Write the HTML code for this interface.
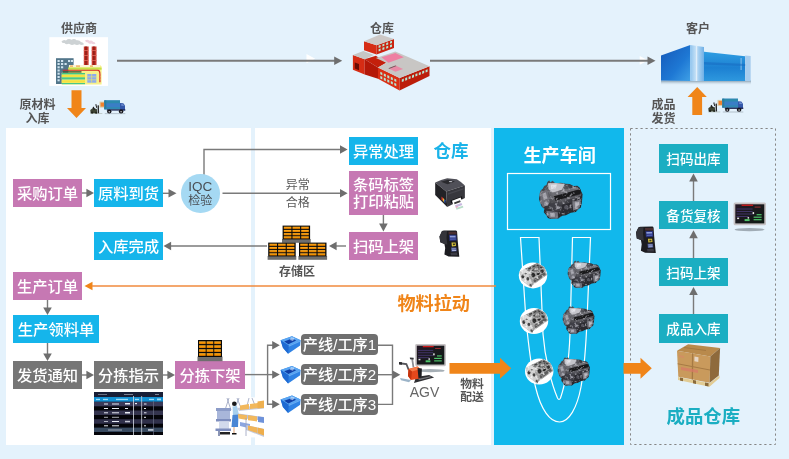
<!DOCTYPE html>
<html lang="zh">
<head>
<meta charset="utf-8">
<title>物料拉动流程</title>
<style>
html,body{margin:0;padding:0;}
body{width:789px;height:459px;overflow:hidden;background:#E4F2FC;font-family:"Liberation Sans","Noto Sans CJK SC",sans-serif;}
#stage{position:relative;width:789px;height:459px;overflow:hidden;will-change:transform;}
.abs{position:absolute;}
.panel{position:absolute;background:#fff;}
.box{position:absolute;color:#fff;font-size:15.3px;line-height:29px;overflow:hidden;text-align:center;white-space:nowrap;height:28px;width:69px;font-weight:500;}
.pk{background:#C678B3;}
.bl{background:#15B5EB;}
.gy{background:#767676;}
.tl{background:#1BAEC2;font-size:13.6px;line-height:31.5px;}
.rd{border-radius:4px;background:#6F6F6F;height:21px;line-height:21.5px;width:76px;font-size:15.2px;}
.lbl{position:absolute;font-weight:700;color:#555;font-size:12px;line-height:13px;text-align:center;white-space:nowrap;}
.ttl{position:absolute;font-weight:700;white-space:nowrap;line-height:20px;}
svg{position:absolute;left:0;top:0;}
</style>
</head>
<body>
<div id="stage">
<!-- panels -->
<div class="panel" style="left:6px;top:128px;width:245px;height:317px;"></div>
<div class="panel" style="left:255px;top:128px;width:236px;height:317px;"></div>
<div class="abs" style="left:494px;top:128px;width:130px;height:317px;background:#11B8EC;"></div>

<!-- lines & arrows -->
<svg id="lines" width="789" height="459" viewBox="0 0 789 459">
<path d="M306.500 54l8.700 4.700l-8.700 4.500zM639.700 56l8.500 4.500l-8.500 4.300z" fill="#fff"/>
<g fill="none" stroke="#7A7A7A" stroke-width="1.4">
<rect x="630.5" y="128.5" width="145" height="316" stroke="#858585" stroke-width="1" stroke-dasharray="2.2 2.8"/>
<!-- top flow -->
<path d="M117 60.700H336" stroke-width="2"/>
<path d="M430 60.700H649" stroke-width="2"/>
<!-- main flow -->
<path d="M82 193H88"/>
<path d="M163 193.300H169"/>
<path d="M204 175V149.500H341"/>
<path d="M222.500 193.300H341"/>
<path d="M383.400 215V224"/>
<path d="M346 246H336"/>
<path d="M267 246H170"/>
<path d="M47.500 300V309"/>
<path d="M47.500 343V355"/>
<path d="M82 375H88"/>
<path d="M163 375H169"/>
<path d="M245 374.600H274"/>
<path d="M274 345.300H267.600V404.300H274"/>
<path d="M378 345.300H392.500V404.400H378"/>
<path d="M378 374.700H394"/>
<!-- right column -->
<path d="M693.500 201V180"/>
<path d="M693.500 258V237"/>
<path d="M693.500 314V294"/>
</g>
<g fill="#6E6E6E">
<path d="M342.200 60.700l-8-4.300v8.600z"/>
<path d="M655.500 60.700l-8-4.300v8.600z"/>
<path d="M94 193l-7.600-4.300v8.600z"/>
<path d="M176.500 193.300l-8-4.200v8.400z"/>
<path d="M347.600 149.500l-7.600-4.200v8.400z"/>
<path d="M347.600 193.300l-7.600-4.200v8.400z"/>
<path d="M383.400 231.500l-4.300-8h8.600z"/>
<path d="M329 246l7.600-4.300v8.600z"/>
<path d="M163.500 246l7.600-4.300v8.600z"/>
<path d="M47.500 315l-4.300-7.600h8.600z"/>
<path d="M47.500 361l-4.300-7.600h8.600z"/>
<path d="M94 375l-7.600-4.300v8.600z"/>
<path d="M175 375l-7.600-4.300v8.600z"/>
<path d="M279.800 345.300l-7.600-4.200v8.400z"/>
<path d="M279.800 374.600l-7.600-4.200v8.400z"/>
<path d="M279.800 404.300l-7.600-4.200v8.400z"/>
<path d="M400.300 374.700l-7.600-4.200v8.400z"/>
<path d="M693.500 173.500l-4.300 8h8.600z"/>
<path d="M693.500 230.200l-4.300 8h8.600z"/>
<path d="M693.500 287l-4.300 8h8.600z"/>
</g>
<!-- orange -->
<g fill="#F08519" stroke="none">
<path d="M71.500 90.300h10v17.700h4.500l-9.500 10-9.500-10h4.500z"/>
<path d="M697.200 87l9.600 10h-4.700v18h-9.800v-18h-4.700z"/>
<path d="M449.500 363H500V357.800L511.200 368.300L500 378.800V373.700H449.500Z"/>
<path d="M623.500 363H640.500V357.800L651.800 368.300L640.500 378.800V373.700H623.500Z"/>
<path d="M84.500 286l8-4.300v8.600z"/>
</g>
<path d="M92 286H496" stroke="#F08A3C" stroke-width="1.4" fill="none"/>
<!-- conveyor -->
<g fill="none" stroke="#fff" stroke-width="1.2">
<rect x="507.500" y="173.500" width="103" height="56"/>
<path d="M539 237.500H520.500L526 320C529 350 532 372 535.500 387C541 410 550 422 559.500 422C569 422 577 408 581 387C584 370 586 345 587 320L590.500 237.500H572.500L570 334C569 360 565 385 560.500 398Q559 401 557.500 398C552 385 545 360 543 334Z"/>
</g>
</svg>

<!-- top labels -->
<div class="lbl" style="left:49px;top:22.5px;width:60px;">供应商</div>
<div class="lbl" style="left:352px;top:22.5px;width:60px;">仓库</div>
<div class="lbl" style="left:668px;top:22.5px;width:60px;">客户</div>
<div class="lbl" style="left:7.5px;top:97.9px;width:60px;line-height:14px;">原材料<br>入库</div>
<div class="lbl" style="left:633.5px;top:99.1px;width:60px;line-height:13.4px;">成品<br>发货</div>

<!-- flow boxes -->
<div class="box pk" style="left:13px;top:179px;">采购订单</div>
<div class="box bl" style="left:94px;top:179px;">原料到货</div>
<div class="abs" style="left:181px;top:174px;width:38.6px;height:38.6px;border-radius:50%;background:#A5D9F3;"></div>
<div class="abs" style="left:181px;top:179.5px;width:38.6px;text-align:center;color:#4A4F55;font-size:13.5px;line-height:14px;">IQC</div>
<div class="abs" style="left:181px;top:193.5px;width:38.6px;text-align:center;color:#4A4F55;font-size:12px;line-height:14px;">检验</div>
<div class="box bl" style="left:349px;top:137px;">异常处理</div>
<div class="box pk" style="left:349px;top:171px;height:44px;line-height:17px;"><div style="padding-top:5px;">条码标签<br>打印粘贴</div></div>
<div class="box pk" style="left:349px;top:232px;">扫码上架</div>
<div class="box bl" style="left:94px;top:232px;">入库完成</div>
<div class="box pk" style="left:13px;top:272px;">生产订单</div>
<div class="box bl" style="left:13px;top:315px;width:86px;">生产领料单</div>
<div class="box gy" style="left:13px;top:361px;">发货通知</div>
<div class="box gy" style="left:94px;top:361px;">分拣指示</div>
<div class="box pk" style="left:175px;top:361px;width:70px;">分拣下架</div>
<div class="box rd" style="left:301px;top:334px;width:77px;">产线/工序1</div>
<div class="box rd" style="left:301px;top:363.8px;width:77px;">产线/工序2</div>
<div class="box rd" style="left:301px;top:393.8px;width:77px;">产线/工序3</div>

<div class="box tl" style="left:659px;top:144px;height:29px;">扫码出库</div>
<div class="box tl" style="left:659px;top:201px;">备货复核</div>
<div class="box tl" style="left:659px;top:258px;">扫码上架</div>
<div class="box tl" style="left:659px;top:313.7px;height:29px;">成品入库</div>

<!-- small texts -->
<div class="abs" style="left:277.7px;top:176.5px;width:40px;text-align:center;color:#595959;font-size:12px;line-height:17px;">异常</div>
<div class="abs" style="left:277.7px;top:194.6px;width:40px;text-align:center;color:#595959;font-size:12px;line-height:17px;">合格</div>
<div class="lbl" style="left:267px;top:265.5px;width:60px;">存储区</div>
<div class="abs" style="left:404px;top:384.5px;width:41px;text-align:center;color:#666;font-size:14px;line-height:15px;">AGV</div>
<div class="lbl" style="left:452px;top:377.8px;width:40px;line-height:13.5px;font-size:11.8px;">物料<br>配送</div>

<!-- titles -->
<div class="ttl" style="left:433.5px;top:141px;font-size:17.5px;color:#1AB3E9;">仓库</div>
<div class="ttl" style="left:523.5px;top:145.5px;font-size:18.1px;color:#fff;">生产车间</div>
<div class="ttl" style="left:397.5px;top:294px;font-size:18.1px;color:#F08519;">物料拉动</div>
<div class="ttl" style="left:666.5px;top:407px;font-size:18.4px;color:#1BAEC2;">成品仓库</div>

<svg id="icons" width="789" height="459" viewBox="0 0 789 459">
<defs>
<linearGradient id="og" x1="0" y1="0" x2="0" y2="1"><stop offset="0" stop-color="#FFB638"/><stop offset="0.5" stop-color="#F59300"/><stop offset="1" stop-color="#D97800"/></linearGradient>
<g id="pallet">
<rect x="-0.6" y="13.400" width="28.700" height="3.800" fill="#6E6E6E"/>
<rect x="0" y="0" width="27.500" height="13.800" fill="#0A0A0A"/>
<g fill="url(#og)">
<rect x="1.200" y="1.100" width="7.600" height="2.200"/><rect x="9.900" y="1.100" width="7.600" height="2.200"/><rect x="18.600" y="1.100" width="7.600" height="2.200"/>
<rect x="1.200" y="4.300" width="7.600" height="2.200"/><rect x="9.900" y="4.300" width="7.600" height="2.200"/><rect x="18.600" y="4.300" width="7.600" height="2.200"/>
<rect x="1.200" y="7.500" width="7.600" height="2.200"/><rect x="9.900" y="7.500" width="7.600" height="2.200"/><rect x="18.600" y="7.500" width="7.600" height="2.200"/>
<rect x="1.200" y="10.700" width="7.600" height="2.200"/><rect x="9.900" y="10.700" width="7.600" height="2.200"/><rect x="18.600" y="10.700" width="7.600" height="2.200"/>
</g>
</g>
<g id="bin">
<path d="M0 4.100L11.400 0L20 4.100L19.600 9.300L7.500 17.500L2.300 11.600Z" fill="#2F82E4"/>
<path d="M0 4.100L11.400 0L20 4.100L8.200 9.200Z" fill="#5AA6F2"/>
<path d="M3.600 5.300L11.400 2.400L15.600 4.200L7.800 8Z" fill="#0F3FA8"/>
<path d="M0 4.100L8.200 9.200L7.500 17.500L2.300 11.600Z" fill="#1F6AD2"/>
<path d="M10.400 1L14 1.700L12.400 4.800L9.400 3.800Z" fill="#CFE6FF" opacity="0.650"/>
<path d="M8.200 9.200L20 4.100L19.900 5.300L8.100 10.500Z" fill="#7FBEFA" opacity="0.700"/>
</g>
<linearGradient id="scr" x1="0" y1="0" x2="1" y2="1"><stop offset="0" stop-color="#241826"/><stop offset="1" stop-color="#0E1A14"/></linearGradient>
<g id="monitor">
<ellipse cx="16" cy="27" rx="15" ry="1.700" fill="#8E9AA2" opacity="0.8"/>
<rect x="0" y="0" width="32.400" height="22.600" rx="1.500" fill="#C6C2C4"/>
<rect x="1.700" y="1.700" width="29" height="19.100" fill="url(#scr)"/>
<rect x="8" y="2" width="11.500" height="1.300" fill="#D01818"/>
<rect x="21" y="4" width="6" height="1" fill="#A03030"/>
<g fill="#4A3A78"><rect x="3" y="6" width="16" height="0.800"/><rect x="3" y="8.500" width="16" height="0.800"/><rect x="3" y="11" width="16" height="0.800"/><rect x="3" y="13.500" width="12" height="0.800"/></g>
<g fill="#4FC36A"><rect x="11" y="16.500" width="5" height="2"/><rect x="20" y="14" width="8" height="1.200"/><rect x="23" y="11.500" width="5" height="1.200"/><rect x="20" y="16.500" width="8" height="1.200"/></g>
<rect x="3.500" y="15" width="2" height="1.500" fill="#ddd"/><rect x="14" y="14.500" width="1.500" height="1.500" fill="#eee"/><rect x="19" y="9.500" width="1.500" height="2" fill="#eee"/>
</g>
<g id="scanner">
<path d="M2.400 1.500Q3 0.600 5 0.700L16.500 0.600Q17.500 0.700 17.600 2L18.200 10.800L19 19L19.800 26.900L9.100 26.700L4.900 24.800L5.700 18.200L4.900 14.100L0.800 12.400L0 6.600Z" fill="#1C1C20"/>
<path d="M2.400 1.500L7.500 1.200L7 8L7.800 14.800L4.900 14.100L0.800 12.400L0 6.600Z" fill="#34343A"/>
<path d="M9 2L17 2L17.200 4.500L9.200 4.600Z" fill="#4A2E30"/>
<path d="M9.500 5L16.900 5L17.300 10.800L9.900 11.200Z" fill="#27307A"/>
<path d="M10.300 6L16 6L16.200 7.600L10.500 7.800Z" fill="#8C9CD8"/>
<path d="M10.600 8.800L16.300 8.600L16.400 9.800L10.700 10Z" fill="#5666B8"/>
<path d="M12 12.800L16.100 12.800L16.500 16.100L12.400 16.600Z" fill="#D8C23C"/>
<path d="M13.300 13.800L15.300 13.800L15.500 15.300L13.500 15.400Z" fill="#3A3A20"/>
<path d="M11.500 17.800L16.900 17.800L17.300 21.500L11.900 21.900Z" fill="#4A5690"/>
<path d="M12.300 18.600L16.300 18.600L16.400 19.500L12.400 19.600ZM12.500 20.300L16.500 20.300L16.600 21.100L12.600 21.200Z" fill="#A8B0D8"/>
<path d="M11 23L17.500 22.800L18 25.500L11.500 25.500Z" fill="#3A3A44"/>
</g>
<g id="truck">
<rect x="0" y="14.300" width="12" height="0.700" fill="#A8B0A8" opacity="0.800"/>
<rect x="14.500" y="14.300" width="20.500" height="0.800" fill="#9AA6B0" opacity="0.800"/>
<path d="M0 11L2.500 9L6.500 10L7 14.300L0.300 14.300Z" fill="#3E4434"/>
<path d="M2.300 8.500L3.300 7.500L4.800 10.500L3.500 11Z" fill="#1E1E1E"/>
<path d="M5 5.500L6 5L6.800 8.500L6 9Z" fill="#1A1A1A"/>
<path d="M7.200 6.500L8.600 6.300L8.800 14.300L7.400 14.300Z" fill="#2A2A2A"/>
<circle cx="1.800" cy="13.600" r="1.100" fill="#20241C"/><circle cx="5.800" cy="13.700" r="1" fill="#20241C"/>
<rect x="9.200" y="2.600" width="5.400" height="6" fill="#D8CCA8"/>
<rect x="10.300" y="3.600" width="3.800" height="4" fill="#F0822E"/>
<path d="M14 1.400L29.700 1.400L29.700 10.300L14 10.300Z" fill="#3A7EC6"/>
<path d="M14 1.400L29.700 1.400L29.700 4.200L14 4.200Z" fill="#2C8AAE"/>
<path d="M14 8L29.700 8L29.700 10.300L14 10.300Z" fill="#3088B4"/>
<path d="M14 1.400L16 1.400L16 10.300L14 10.300Z" fill="#2A7C9C"/>
<path d="M29.700 4L33 4.200L34.700 6.500L34.700 11.300L29.700 11.300Z" fill="#3458AA"/>
<path d="M31 5L32.800 5.200L34 6.800L31 6.800Z" fill="#6E8ED0"/>
<rect x="16.500" y="10.300" width="18.500" height="1.300" fill="#1C2450"/>
<ellipse cx="19" cy="12.500" rx="2.200" ry="2" fill="#15151A"/><ellipse cx="30.800" cy="12.500" rx="2.300" ry="2" fill="#15151A"/>
<ellipse cx="19" cy="12.800" rx="0.900" ry="0.800" fill="#B8B8C0"/><ellipse cx="30.800" cy="12.800" rx="0.900" ry="0.800" fill="#B8B8C0"/>
</g>
</defs>
<!-- pallets -->
<use href="#pallet" x="282.600" y="225.600"/>
<use href="#pallet" x="268.200" y="242.600"/>
<use href="#pallet" x="299" y="242.600"/>
<g transform="translate(198 340) scale(0.873 1.232)"><use href="#pallet"/></g>
<!-- bins -->
<use href="#bin" x="280.600" y="336.200"/>
<use href="#bin" x="280.600" y="366"/>
<use href="#bin" x="280.600" y="395.500"/>
<!-- monitors -->
<use href="#monitor" x="733.600" y="202.600"/>
<g transform="translate(415.200 344) scale(0.948 0.987)"><use href="#monitor"/></g>
<!-- scanners -->
<use href="#scanner" x="439.500" y="229.800"/>
<g transform="translate(636 226)"><use href="#scanner"/></g>
<!-- trucks -->
<use href="#truck" x="90.300" y="99"/>
<use href="#truck" x="708.300" y="97.300"/>
</svg>

<svg id="icons2" width="789" height="459" viewBox="0 0 789 459">
<defs>
<linearGradient id="cb1" x1="0" y1="0" x2="1" y2="1"><stop offset="0" stop-color="#1558B8"/><stop offset="0.6" stop-color="#1E78D4"/><stop offset="1" stop-color="#3FA0E6"/></linearGradient>
<linearGradient id="cb2" x1="0" y1="0" x2="0" y2="1"><stop offset="0" stop-color="#2F9EE2"/><stop offset="0.55" stop-color="#1C80D2"/><stop offset="1" stop-color="#2E98DE"/></linearGradient>
<linearGradient id="cb3" x1="0" y1="0" x2="1" y2="0"><stop offset="0" stop-color="#8FC4EE"/><stop offset="0.4" stop-color="#C4E0F6"/><stop offset="1" stop-color="#6FB0E6"/></linearGradient>
<linearGradient id="cbs" x1="0" y1="0" x2="0" y2="1"><stop offset="0" stop-color="#7F97A8"/><stop offset="1" stop-color="#CFE0EC" stop-opacity="0"/></linearGradient>
</defs>
<!-- factory -->
<g>
<rect x="49.300" y="37.200" width="58.700" height="48.700" fill="#fff"/>
<path d="M61.500 41.500q2-2.500 4.500-1q2.500-2.500 5.500-0.800q3-1.800 5 0.600q3-0.600 4.500 1.600q2.500 0.200 3 2.300q-2.500 1.500-4.500 0q-2.500 1.500-5 0q-3 1.600-5.500-0.400q-3 1.200-4.500-0.800q-2.500 0.300-3-1.500z" fill="#CDD2D4"/>
<path d="M85 40.500q2.500-1.500 4.500 0.300q2.500-0.800 3.500 1q2 0.200 2.500 2q-2.500 1-4-0.300q-2.500 0.800-3.500-1q-2.500 0-3-2z" fill="#EED2DE"/>
<rect x="83.800" y="46.500" width="4.800" height="19" fill="#C8372C"/>
<rect x="91.700" y="46.500" width="4.800" height="19" fill="#C8372C"/>
<rect x="85.200" y="46.500" width="1.600" height="19" fill="#8E1E18"/>
<rect x="93.100" y="46.500" width="1.600" height="19" fill="#8E1E18"/>
<g fill="#E26A5C"><rect x="83.800" y="50" width="4.800" height="0.800"/><rect x="83.800" y="55" width="4.800" height="0.800"/><rect x="83.800" y="60" width="4.800" height="0.800"/><rect x="91.700" y="50" width="4.800" height="0.800"/><rect x="91.700" y="55" width="4.800" height="0.800"/><rect x="91.700" y="60" width="4.800" height="0.800"/></g>
<rect x="56" y="58.200" width="17.600" height="25.800" fill="#52768A"/>
<g fill="#D0E4F0"><rect x="57.500" y="60" width="2.200" height="2"/><rect x="61" y="60" width="2.200" height="2"/><rect x="68" y="60" width="2.200" height="2"/><rect x="71" y="60" width="2" height="2"/><rect x="57.500" y="63" width="2.200" height="2"/><rect x="61" y="63" width="2.200" height="2"/><rect x="64.500" y="63" width="2.200" height="2"/><rect x="57.500" y="66.300" width="2.200" height="2"/><rect x="61" y="66.300" width="2.200" height="2"/><rect x="57.500" y="69.500" width="2.200" height="2"/><rect x="57.500" y="72.700" width="2.200" height="2"/><rect x="57.500" y="76" width="2.200" height="2"/><rect x="57.500" y="79.300" width="2.200" height="2"/></g>
<path d="M69 65H100L101.600 66.500V84.500H61.700V72.800H68.200Z" fill="#F6F08A"/>
<rect x="69" y="65" width="31" height="2.200" fill="#FBF3D8"/>
<g fill="#F0A048"><rect x="70" y="65.500" width="3" height="1.200"/><rect x="76" y="65.500" width="4" height="1.200"/><rect x="90" y="65.500" width="3" height="1.200"/></g>
<rect x="68.200" y="67.600" width="33.400" height="2.100" fill="#C6E048"/>
<path d="M62.800 69.700H98Q100.400 70 100.400 73V82.300H99.300V73.200Q99.300 70.900 97.600 70.800H62.800Z" fill="#D42424"/>
<rect x="62.800" y="71.200" width="18.700" height="1.400" fill="#3E5A38"/>
<rect x="61.700" y="73" width="23.300" height="1.500" fill="#44C884"/>
<rect x="61.700" y="74.800" width="23.300" height="2.200" fill="#F4E240"/>
<rect x="61.700" y="77.300" width="23.300" height="2.200" fill="#48C888"/>
<rect x="61.700" y="80.200" width="23.300" height="2.500" fill="#F4E240"/>
<rect x="61.700" y="83" width="23.300" height="1.200" fill="#48C888"/>
<rect x="87.300" y="74" width="9" height="8.700" fill="#8CAAF0"/>
<g fill="#F0E860"><rect x="87.300" y="76.600" width="9" height="0.600"/><rect x="87.300" y="79.600" width="9" height="0.600"/><rect x="91.500" y="74" width="0.600" height="8.700"/></g>
<g fill="#E46A5A"><circle cx="100" cy="75" r="0.800"/><circle cx="100" cy="78" r="0.800"/><circle cx="100" cy="81" r="0.800"/></g>
</g>
<!-- warehouse building -->
<g>
<path d="M352.900 55.100L364.700 59.300L364.700 74.600L352.900 69.700Z" fill="#D62C14"/>
<path d="M352.900 55.100L363.300 50.900L373.800 55.100L364.700 59.300Z" fill="#C6C6C4"/>
<path d="M364.700 59.300L375.900 55.800L386.300 62.800L378 67.600Z" fill="#C4200C"/>
<path d="M364.700 59.300L378 67.600L378 78.800L364.700 74.600Z" fill="#B41808"/>
<path d="M378 67.600L399.600 78.100L399.600 90.600L378 78.800Z" fill="#DA2E14"/>
<path d="M399.600 78.100L429.500 66.200L429.500 76L399.600 90.600Z" fill="#BC1E0A"/>
<path d="M375.900 57.900L395.400 51.600L429.500 66.200L399.600 78.100L378 67.600L386.300 62.800Z" fill="#C8C6C4"/>
<path d="M381.500 57.200L395.400 53L403.800 57.200L388.400 62.800Z" fill="#EE80A2"/>
<path d="M388.400 68.300L395.400 65.500L403.100 69L395.400 71.800Z" fill="#E88AA6"/>
<path d="M388.400 68.300L395.400 65.500L396.500 66L389.500 68.800Z" fill="#6A5A5A"/>
<path d="M364 41.200L376.600 45.300L376.600 54.400L364 50.200Z" fill="#D62C14"/>
<path d="M376.600 45.300L394 39.100L394 48.100L376.600 54.400Z" fill="#CA2410"/>
<path d="M364 41.200L380.100 34.500L394 39.100L376.600 45.300Z" fill="#CCC8C6"/>
<path d="M354.800 62.500L359 64.100L359 70.300L354.800 68.600Z" fill="#6A0C04"/>
<g fill="#B4E6D2"><path d="M378.6 45.6l2.0 -0.71v2.3l-2.0 0.71z"/><path d="M382.4 44.2l2.0 -0.71v2.3l-2.0 0.71z"/><path d="M386.2 42.9l2.0 -0.71v2.3l-2.0 0.71z"/><path d="M390.0 41.5l2.0 -0.71v2.3l-2.0 0.71z"/><path d="M378.6 49.2l2.0 -0.71v2.3l-2.0 0.71z"/><path d="M382.4 47.8l2.0 -0.71v2.3l-2.0 0.71z"/><path d="M386.2 46.5l2.0 -0.71v2.3l-2.0 0.71z"/><path d="M390.0 45.1l2.0 -0.71v2.3l-2.0 0.71z"/><path d="M380.3 71.7l2.0 0.97v2.6l-2.0 -0.97z"/><path d="M383.8 73.4l2.0 0.97v2.6l-2.0 -0.97z"/><path d="M387.3 75.1l2.0 0.97v2.6l-2.0 -0.97z"/><path d="M390.8 76.8l2.0 0.97v2.6l-2.0 -0.97z"/><path d="M394.3 78.5l2.0 0.97v2.6l-2.0 -0.97z"/><path d="M380.3 75.9l2.0 0.97v2.6l-2.0 -0.97z"/><path d="M383.8 77.6l2.0 0.97v2.6l-2.0 -0.97z"/><path d="M387.3 79.3l2.0 0.97v2.6l-2.0 -0.97z"/><path d="M390.8 81.0l2.0 0.97v2.6l-2.0 -0.97z"/><path d="M394.3 82.7l2.0 0.97v2.6l-2.0 -0.97z"/><path d="M401.8 79.4l2.0 -0.80v2.6l-2.0 0.80z"/><path d="M405.2 78.1l2.0 -0.80v2.6l-2.0 0.80z"/><path d="M408.6 76.7l2.0 -0.80v2.6l-2.0 0.80z"/><path d="M412.0 75.4l2.0 -0.80v2.6l-2.0 0.80z"/><path d="M415.4 74.0l2.0 -0.80v2.6l-2.0 0.80z"/><path d="M418.8 72.7l2.0 -0.80v2.6l-2.0 0.80z"/><path d="M422.2 71.3l2.0 -0.80v2.6l-2.0 0.80z"/><path d="M425.6 70.0l2.0 -0.80v2.6l-2.0 0.80z"/></g>
</g>
<!-- customer building -->
<g>
<rect x="661" y="80.500" width="90" height="4.500" fill="url(#cbs)"/>
<path d="M661 55.400L690.300 45L690.300 81L661 80.600Z" fill="url(#cb1)"/>
<path d="M704 51.700L745.200 56.300L745.200 81L704 81Z" fill="url(#cb2)"/>
<path d="M690.300 45L704 47L704 81L690.300 81Z" fill="url(#cb3)"/>
<path d="M745.200 55.400L750.700 56L750.700 81L745.200 81Z" fill="#A8CDEE"/>
<rect x="696" y="46" width="1.200" height="35" fill="#E8F2FB" opacity="0.800"/>
<rect x="740.500" y="58" width="1.200" height="12" fill="#8EC4EE" opacity="0.800"/>
<path d="M704 62L745.200 64L745.200 66L704 64.500Z" fill="#1668C0" opacity="0.500"/>
</g>
</svg>

<svg id="icons3" width="789" height="459" viewBox="0 0 789 459">
<defs>
<radialGradient id="eng" cx="0.4" cy="0.3" r="0.8"><stop offset="0" stop-color="#808086"/><stop offset="0.45" stop-color="#3C3C42"/><stop offset="1" stop-color="#1A1A1E"/></radialGradient>
<filter id="noise" x="0" y="0" width="1" height="1" color-interpolation-filters="sRGB">
<feTurbulence type="fractalNoise" baseFrequency="0.3" numOctaves="2" seed="7" result="n"/>
<feColorMatrix in="n" type="matrix" values="0 0 0 0 0  0 0 0 0 0  0 0 0 0 0  2.6 0 0 0 -1.35" result="a"/>
<feFlood flood-color="#C8C8D0" result="f"/>
<feComposite in="f" in2="a" operator="in" result="sp"/>
<feComposite in="sp" in2="SourceAlpha" operator="in" result="sp2"/>
<feMerge><feMergeNode in="SourceGraphic"/><feMergeNode in="sp2"/></feMerge>
</filter>
<g id="engine" filter="url(#noise)">
<path d="M0.500 15.500L1.200 12L2.100 10L4 8.500L5.400 5.700L7.600 4.800L8.600 1.900L10.500 0L11.500 2L14 0.500L15.500 2.200L17.300 3L22 2.600L27.100 3.500L31 3.800L34.800 5.700L38.500 5.600L40.800 7.300L42.400 11.100L43.800 14L43.300 19.900L42.800 24L41.900 27.500L39.500 29L37 31.800L32 32.500L27.100 35.100L23.500 35.500L19.500 38.400L15 38.200L11.900 38.900L9 37.800L7.500 35.100L5 32L5.400 28.600L3 26.500L1.500 23.100L0.200 19Z" fill="url(#eng)"/>
<path d="M9.200 3L17 2.800L26 3.800L23 9.500L14 12.200L9.700 9Z" fill="#C4C4CA"/>
<path d="M12 4.500L18 4.200L17 8L12.500 9Z" fill="#E4E4EA"/>
<path d="M14.500 12.500L24 9.500L38 6.800L41 9L16 15.800Z" fill="#6C6C72"/>
<path d="M15 16L41.500 9L42 13.500L16.500 20.500Z" fill="#1A1A1C"/>
<path d="M16.500 21L42 14L42.300 15.800L17 23Z" fill="#5A5A60"/>
<path d="M1.500 12L8.500 9L11 22L4.500 27.500L1.500 22Z" fill="#6E6E76"/>
<path d="M3.500 13.500L7 12L8.500 18L5 20Z" fill="#A0A0A8"/>
<path d="M33.500 22L42 18.800L41 27L34.500 30.500Z" fill="#7A7A82"/>
<path d="M36 23L40.500 21.300L40 25L36.500 26.800Z" fill="#B0B0B8"/>
<path d="M11 24L20 21.500L22.500 30L13 33.500Z" fill="#3E3E46"/>
<path d="M7.500 30.500L19 32L19.500 38L12 38.500L8 35Z" fill="#70707A"/>
<path d="M11 32.500L16 33L16 36.500L12 36.500Z" fill="#A8A8B2"/>
<path d="M23 25L32 22.500L33 29.500L24 32.500Z" fill="#2A2A30"/>
<circle cx="7.500" cy="23.500" r="2.300" fill="#8E8E98"/>
<circle cx="27.500" cy="27" r="2.200" fill="#55555E"/>
<circle cx="19.500" cy="27" r="1.500" fill="#7A7A84"/>
</g>
<filter id="noise2" x="0" y="0" width="1" height="1" color-interpolation-filters="sRGB">
<feTurbulence type="fractalNoise" baseFrequency="0.35" numOctaves="2" seed="3" result="n"/>
<feColorMatrix in="n" type="matrix" values="0 0 0 0 1  0 0 0 0 1  0 0 0 0 1  2.6 0 0 0 -1.3" result="a"/>
<feComposite in="a" in2="SourceAlpha" operator="in" result="sp2"/>
<feMerge><feMergeNode in="SourceGraphic"/><feMergeNode in="sp2"/></feMerge>
</filter>
<g id="block">
<ellipse cx="14.200" cy="13" rx="14.200" ry="13" fill="#fff"/>
<g filter="url(#noise2)">
<path d="M0.600 9.600L5.800 6.700L18.400 0.700L25.800 5.200L28 12.600L13.200 23L12.100 25.200L2.800 17.800Z" fill="#B4B4B4"/>
<path d="M5.800 6.700L18.400 0.700L25.800 5.200L13.200 11.100Z" fill="#7E7E7E"/>
<path d="M0.600 9.600L5.800 6.700L13.200 11.100L9.500 12.400Z" fill="#DADADA"/>
<path d="M9.500 12.400L13.200 11.100L25.800 5.200L28 12.600L13.200 23Z" fill="#A2A2A2"/>
<path d="M0.600 9.600L9.500 12.400L13.200 23L12.100 25.200L2.800 17.800Z" fill="#D0D0D0"/>
<ellipse cx="14.600" cy="12.600" rx="1.900" ry="2.300" fill="#2A2A2A" transform="rotate(-25 14.600 12.600)"/>
<ellipse cx="19" cy="10.400" rx="1.900" ry="2.300" fill="#2A2A2A" transform="rotate(-25 19 10.400)"/>
<ellipse cx="23.200" cy="8.400" rx="1.700" ry="2.100" fill="#333" transform="rotate(-25 23.200 8.400)"/>
<ellipse cx="4" cy="14" rx="1.500" ry="2" fill="#3A3A3A"/>
<ellipse cx="9" cy="16.500" rx="1.400" ry="1.800" fill="#444"/>
<ellipse cx="7" cy="11.200" rx="1.200" ry="0.800" fill="#666"/>
<path d="M14.500 17L26 9.500L26.800 12.300L15.500 20.300Z" fill="#5C5C5C"/>
<path d="M10 6.300L12 5.400M14 4.400L16 3.500M18 2.800L20 3.600M13 8.300L15 7.400M17.500 6.200L19.500 5.300M21.500 4.800L23 5.400" stroke="#3A3A3A" stroke-width="1.100" stroke-linecap="round"/>
<path d="M11 21L13.500 22.500L12.500 24.500L10.500 23Z" fill="#555"/>
</g>
</g>
</defs>
<!-- printer -->
<g>
<path d="M435.200 182.500Q441 179.500 447.200 178.200L456.800 179.200Q461.500 182 464.900 185.400L446.200 191.500Z" fill="#505058"/>
<path d="M435.200 182.500L446.200 191.500L447.200 207L435.200 195Z" fill="#222226"/>
<path d="M446.200 191.500L464.900 185.400L464.900 197.900L447.200 207Z" fill="#37373D"/>
<path d="M441 181.800L448 179.800L455 181.500L447.500 184.200Z" fill="#2A2A2E"/>
<path d="M449.500 181L452.500 181.300L451.500 182.200L448.800 182Z" fill="#C8C8D0"/>
<path d="M448 193.300L463.500 188.200L463.500 189.500L448 194.700Z" fill="#47474E"/>
<path d="M441.500 196.500L443 198L443 201L441.500 199.500Z" fill="#D83A2A"/>
<path d="M443 198L444.300 199.300L444.300 202.300L443 201Z" fill="#E8C030"/>
<path d="M444.300 199.300L445.300 200.300L445.300 203.300L444.300 202.300Z" fill="#3060C8"/>
<path d="M450.500 200.500L462 196.300L462.300 198.800L451 203.200Z" fill="#0E0E10"/>
<path d="M452 200.800L460.600 197.400L464.900 208.900L455.300 211.800Z" fill="#fff"/>
<path d="M454 202.500L460 200.200L460.700 202L454.600 204.300Z" fill="#3A3A3A"/>
<path d="M455 205.300L461.500 203L462.300 205L455.800 207.400Z" fill="#C8B8E0"/>
<path d="M456 208L462.800 205.800L463.400 207.500L456.600 209.800Z" fill="#B8DCC8"/>
<path d="M455.500 206.700L457.500 206L458 207.300L456 208Z" fill="#E8A8B8"/>
</g>
<!-- forklift / AGV -->
<g>
<path d="M400 378.100L411 380.100L409 382.300L401 380.300Z" fill="#9CB4C8"/>
<path d="M416 377.100L429.100 375.100L434.100 377.600L414 383.100Z" fill="#2E2E32"/>
<path d="M418 379L430 376.200L431.500 377L419.500 380Z" fill="#77777C"/>
<path d="M399.500 362.300L407 363.300L409.500 369.500L408 370.500L405.800 365L399.500 364.200Z" fill="#55555A"/>
<path d="M399 362L402 362.300L402 364.800L399 364.500Z" fill="#2A2A2E"/>
<path d="M411.300 359L413 358.800L414.300 367L412.600 367.500Z" fill="#8C8C92"/>
<path d="M409.800 357.400L413.600 357.800L413.800 359.600L410 359.300Z" fill="#3A3A3E"/>
<path d="M408.500 369.100L417.500 366.600L420.500 369.100L420 378.600L411 380.100L408 376.100Z" fill="#E4481C"/>
<path d="M408.500 369.100L417.500 366.600L420.500 369.100L412 371.500Z" fill="#F47A48"/>
<path d="M408.500 369.100L412 371.500L411 380.100L408 376.100Z" fill="#C4340E"/>
<path d="M417.500 368.100L421.900 368.600L421.600 377.100L418.500 378.600Z" fill="#1E1E22"/>
</g>
<!-- picking table -->
<g>
<rect x="94" y="392" width="69" height="43" fill="#05050A"/>
<rect x="94" y="392" width="69" height="5" fill="#181E36"/>
<rect x="94" y="397" width="69" height="4.800" fill="#1290D2"/>
<rect x="94" y="401.800" width="69" height="4.500" fill="#3A3A58"/>
<rect x="94" y="410.500" width="69" height="4.500" fill="#34344E"/>
<rect x="94" y="419.200" width="69" height="4.500" fill="#30304A"/>
<rect x="94" y="427.600" width="69" height="4.400" fill="#384A60"/>
<g fill="#E8ECF4">
<rect x="104" y="403.500" width="4" height="1"/><rect x="112" y="403.500" width="7" height="1"/><rect x="125" y="403" width="5" height="1.500"/><rect x="135" y="403" width="2" height="1.200"/><rect x="144" y="403.500" width="2.500" height="1"/>
<rect x="104" y="408" width="4" height="1"/><rect x="112" y="408" width="7" height="1"/><rect x="125" y="408" width="3" height="1"/><rect x="144" y="408" width="2" height="1"/>
<rect x="104" y="412.300" width="4" height="1"/><rect x="112" y="412.300" width="7" height="1"/><rect x="125" y="412" width="5" height="1.500"/><rect x="144" y="412.300" width="2.500" height="1"/>
<rect x="104" y="416.800" width="4" height="1" opacity="0.700"/><rect x="112" y="416.800" width="7" height="1" opacity="0.700"/><rect x="144" y="416.800" width="2" height="1"/>
<rect x="104" y="421" width="4" height="1" opacity="0.700"/><rect x="112" y="421" width="7" height="1"/><rect x="125" y="420.800" width="5" height="1.500" opacity="0.800"/>
<rect x="104" y="425.300" width="4" height="1"/><rect x="112" y="425.300" width="7" height="1"/><rect x="144" y="425.300" width="2" height="1"/>
<rect x="108" y="429.500" width="14" height="1" opacity="0.600"/><rect x="148" y="429.300" width="6" height="1.300"/>
<rect x="98" y="394" width="9" height="0.800" opacity="0.500"/><rect x="124" y="394" width="9" height="0.800" opacity="0.600"/><rect x="155" y="394" width="4" height="0.800" opacity="0.600"/>
</g>
<g fill="#9ADCFA"><rect x="96" y="398.800" width="4" height="1.300"/><rect x="103" y="398.800" width="5" height="1.300"/><rect x="116" y="398.800" width="12" height="1.300"/><rect x="135" y="398.800" width="4" height="1.300"/><rect x="149" y="398.800" width="5" height="1.300"/><rect x="157" y="398.500" width="4" height="1.800"/></g>
<rect x="133" y="396" width="0.800" height="39" fill="#D8DCE6"/>
<rect x="141.300" y="396" width="0.800" height="39" fill="#C8CCD6"/>
<rect x="153" y="401" width="0.700" height="34" fill="#6A7086"/>
</g>
<!-- worker picture -->
<g>
<rect x="214" y="397.400" width="50" height="40" fill="#fff"/>
<g stroke="#8A94B4" stroke-width="0.700" fill="none"><path d="M227 398L231 410"/><path d="M229 398L225 410"/><path d="M237 398L241 408"/><path d="M239 398L235 408"/><path d="M249 398L246 410"/><path d="M252 398L256 408"/></g>
<path d="M216 408H231V411H216Z" fill="#8C9CC8"/>
<path d="M217 411H230V419H217Z" fill="#A8B6DA"/>
<path d="M216 419H231V421.500H216Z" fill="#7E8EBE"/>
<path d="M219 421.500H229V430H219Z" fill="#D2DAEC"/>
<path d="M215.500 428.500H231V431H215.500Z" fill="#7E8EBE"/>
<path d="M218 431H220V436H218Z" fill="#8A94B4"/>
<path d="M220 432H230V434.500H220Z" fill="#222"/>
<circle cx="234.300" cy="403.800" r="2.300" fill="#1A1A1A"/>
<path d="M232.500 406.500L237 406L239 415L233 416Z" fill="#A8D0EE"/>
<path d="M232.500 415L238.500 414.500L238 427L231.500 427Z" fill="#4A86D4"/>
<path d="M233 427H235V433H233Z" fill="#F0D0B8"/>
<path d="M232 433H236.500V434.500H232Z" fill="#111"/>
<path d="M237 408L264 404.500V408.500L239 411Z" fill="#C8CCDC"/>
<path d="M240 405.500L249 404V409L240 410Z" fill="#F2B85C"/>
<path d="M250 404L258 403V408L250 409Z" fill="#F2B85C"/>
<path d="M257.500 401.500L264 400.500V408L257.500 408.500Z" fill="#EEB050"/>
<path d="M238 413.500L264 417V421L239 417.500Z" fill="#B8C0D8"/>
<path d="M238 414L247 415.200V420L238.500 418.500Z" fill="#F2B85C"/>
<path d="M248 415.300L257 416.500V421.500L248 420.200Z" fill="#F2B85C"/>
<path d="M258 416.500L264 417.300V423L258 422Z" fill="#6E92DA"/>
<path d="M240 422L250 424V428.500L240 426Z" fill="#8CA6E0"/>
<path d="M246 425L264 429V437L246 430Z" fill="#C4CADC"/>
<path d="M248 425.500L257 427.500V433L248 430Z" fill="#F0B458"/>
<path d="M257.500 427.500L264 429V435.500L257.500 433.300Z" fill="#EEAE4C"/>
<path d="M246 418V436" stroke="#98A0BC" stroke-width="0.800"/>
</g>
<!-- engines -->
<g transform="translate(538.800 180.200)"><use href="#engine"/></g>
<g transform="translate(567.500 260.500) scale(0.760 0.710)"><use href="#engine"/></g>
<g transform="translate(562.500 306) scale(0.730 0.720)"><use href="#engine"/></g>
<g transform="translate(557.500 357) scale(0.740 0.740)"><use href="#engine"/></g>
<use href="#block" x="518.800" y="262.400"/>
<use href="#block" x="519.800" y="308"/>
<use href="#block" x="525" y="358.500"/>
<!-- carton pallet -->
<g>
<path d="M678 377L709.500 383.200L719.500 375.500L719.500 378L709.500 386.800L678 380Z" fill="#E2CC94"/>
<path d="M680 380.500L683 381.200L683 378L680 377.400ZM693 383.200L696 383.900L696 380.600L693 380ZM705 385.800L708.500 386.500L708.500 383L705 382.400Z" fill="#8A6A3A"/>
<path d="M677 350.700L688.100 344.200L720.100 348.100L710.300 356.600Z" fill="#B98A4C"/>
<path d="M677 350.700L710.300 356.600L709.700 382.700L678.300 376.800Z" fill="#C99A5C"/>
<path d="M710.300 356.600L720.100 348.100L718.800 375.500L709.700 382.700Z" fill="#8E6A3C"/>
<path d="M692 353.300L693.300 353.500L693 379.600L691.700 379.400Z" fill="#A67A44"/>
<path d="M677.600 363.300L710 369.400L710 370.400L677.600 364.300Z" fill="#A67A44"/>
<path d="M694.500 356.500L698.500 357.200L698.300 362L694.400 361.300Z" fill="#E6D6C6"/>
<path d="M681 367L698 370L698 373L681 370Z" fill="#D87868" opacity="0.700"/>
<path d="M679 355L684 356L684 358L679 357Z" fill="#D88868" opacity="0.600"/>
<path d="M684 347.500L706 350.500" stroke="#A0743E" stroke-width="0.800"/>
</g>
</svg>

<!--ICONS4-->
</div>
</body>
</html>
